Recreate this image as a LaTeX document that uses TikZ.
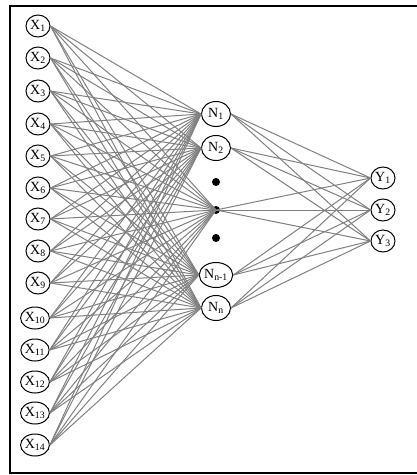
\documentclass[tikz,border=0pt]{standalone}
\usepackage{fontspec}
\setmainfont{Liberation Serif}
\usetikzlibrary{shapes.geometric}
\begin{document}
\begin{tikzpicture}[x=1pt,y=-1pt,
  unit/.style={ellipse, draw, line width=1pt, inner sep=0pt, minimum width=24pt, minimum height=22pt, font=\fontsize{14}{14}\selectfont},
  hid/.style={unit, minimum width=29pt, minimum height=25pt},
  dotn/.style={circle, fill=black, inner sep=0pt, minimum size=8pt},
  conn/.style={draw=black!50, line width=1pt},
  frame/.style={line width=1.4pt}]
\useasboundingbox (0,0) rectangle (417,475);
\draw[frame] (418,6) -- (10,6) -- (10,473) -- (418,473);
% inputs
\foreach \i/\x/\y in {1/38/26,2/38/58,3/38/91,4/38/124,5/38/156,6/38/188,7/38/219,8/38/251,9/38/283,10/35/318,11/35/350,12/35/382,13/35/413,14/35/445}
  \node[unit] (X\i) at (\x,\y) {X\textsubscript{\i}};
% hidden
\node[hid] (N1) at (216,114) {N\textsubscript{1}};
\node[hid] (N2) at (216,148) {N\textsubscript{2}};
\node[dotn] (D1) at (216,182) {};
\node[dotn] (D2) at (216,210) {};
\node[dotn] (D3) at (216,238) {};
\node[hid] (Nm) at (216,275) {N\textsubscript{n-1}};
\node[hid] (Nn) at (216,308) {N\textsubscript{n}};
% outputs
\node[unit] (Y1) at (383,178) {Y\textsubscript{1}};
\node[unit] (Y2) at (383,210) {Y\textsubscript{2}};
\node[unit] (Y3) at (383,241) {Y\textsubscript{3}};
% connections
\foreach \i in {1,...,14}{
  \foreach \t in {N1,N2,Nm,Nn}
    \draw[conn] (X\i.east) -- (\t.west);
  \draw[conn] (X\i.east) -- (D2.center);
}
\foreach \t in {N1,N2,Nm,Nn}
  \foreach \j in {1,2,3}
    \draw[conn] (\t.east) -- (Y\j.west);
\foreach \j in {1,2,3}
  \draw[conn] (D2.center) -- (Y\j.west);
\end{tikzpicture}
\end{document}
